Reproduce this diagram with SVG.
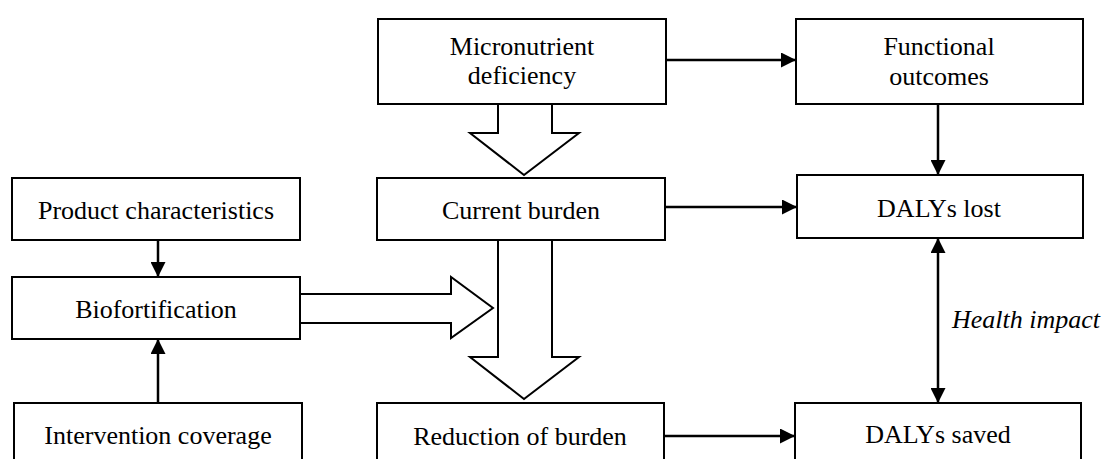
<svg xmlns="http://www.w3.org/2000/svg" width="1104" height="459" viewBox="0 0 1104 459">
<style>
.box{fill:#fff;stroke:#000;stroke-width:2}
.t{font-family:"Liberation Serif","Times New Roman",serif;font-size:26px;fill:#000;text-anchor:middle}
.i{font-style:italic;text-anchor:start}
.ln{stroke:#000;stroke-width:2.5;fill:none}
.blk{fill:#fff;stroke:#000;stroke-width:2;stroke-linejoin:miter}
</style>
<defs>
<marker id="ah" viewBox="0 0 15 15" refX="15" refY="7.5" markerWidth="15" markerHeight="15" markerUnits="userSpaceOnUse" orient="auto-start-reverse">
<path d="M0,0 L15,7.5 L0,15 Z" fill="#000"/>
</marker>
</defs>
<g id="connectors">
<path class="blk" d="M498,104 V133 H470 L524,175 L579,133 H552 V104"/>
<path class="blk" d="M300,294 H451 V277 L493,308 L451,338 V323 H300"/>
<path class="blk" d="M498,240 V357 H470 L524,399 L579,357 H552 V240"/>
<line class="ln" x1="666" y1="60" x2="796" y2="60" marker-end="url(#ah)"/>
<line class="ln" x1="665" y1="207" x2="797" y2="207" marker-end="url(#ah)"/>
<line class="ln" x1="664" y1="436" x2="795" y2="436" marker-end="url(#ah)"/>
<line class="ln" x1="938" y1="104" x2="938" y2="175" marker-end="url(#ah)"/>
<line class="ln" x1="938" y1="238" x2="938" y2="403" marker-start="url(#ah)" marker-end="url(#ah)"/>
<line class="ln" x1="158" y1="240" x2="158" y2="277" marker-end="url(#ah)"/>
<line class="ln" x1="158" y1="403" x2="158" y2="339" marker-end="url(#ah)"/>
</g>
<g id="micronutrient"><rect class="box" x="378" y="19" width="288" height="85"/><text class="t" x="522" y="55">Micronutrient</text><text class="t" x="522" y="84">deficiency</text></g>
<g id="functional"><rect class="box" x="796" y="19" width="287" height="85"/><text class="t" x="939" y="55">Functional</text><text class="t" x="939" y="85">outcomes</text></g>
<g id="product"><rect class="box" x="12" y="178" width="288" height="62"/><text class="t" x="156" y="219">Product characteristics</text></g>
<g id="current"><rect class="box" x="377" y="178" width="288" height="62"/><text class="t" x="521" y="219">Current burden</text></g>
<g id="dalys-lost"><rect class="box" x="797" y="175" width="286" height="63"/><text class="t" x="939" y="217">DALYs lost</text></g>
<g id="biofortification"><rect class="box" x="12" y="277" width="288" height="62"/><text class="t" x="156" y="318">Biofortification</text></g>
<text class="t i" x="952" y="328">Health impact</text>
<g id="intervention"><rect class="box" x="14" y="403" width="288" height="70"/><text class="t" x="158" y="444">Intervention coverage</text></g>
<g id="reduction"><rect class="box" x="377" y="403" width="287" height="70"/><text class="t" x="520" y="445">Reduction of burden</text></g>
<g id="dalys-saved"><rect class="box" x="795" y="403" width="286" height="70"/><text class="t" x="938" y="443">DALYs saved</text></g>
</svg>
